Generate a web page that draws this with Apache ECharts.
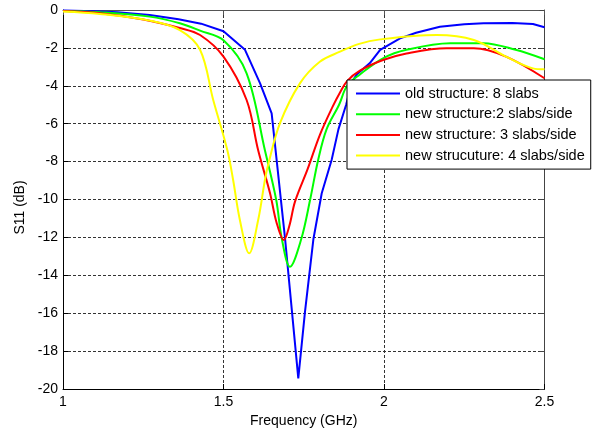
<!DOCTYPE html>
<html>
<head>
<meta charset="utf-8">
<script src="https://cdn.jsdelivr.net/npm/echarts@6/dist/echarts.min.js"></script>
<style>
html,body{margin:0;padding:0;background:#fff;}
#chart{width:598px;height:433px;}
</style>
</head>
<body>
<div id="chart"></div>
<script>
// ---- data ----
const seriesNames = [
  'old structure: 8 slabs',
  'new structure:2 slabs/side',
  'new structure: 3 slabs/side',
  'new strucuture: 4 slabs/side'
];
const xTicks = [1, 1.5, 2, 2.5];
const yTicks = [-20, -18, -16, -14, -12, -10, -8, -6, -4, -2, 0];

const oldFreq = [1.00,1.10,1.17,1.27,1.36,1.43,1.50,1.567,1.614,1.65,1.692,1.733,1.754,1.78,1.806,1.837,1.858,1.882,1.90,1.915,1.956,1.988,2.05,2.10,2.174,2.25,2.31,2.40,2.464,2.50];
const oldS11  = [-0.02,-0.06,-0.12,-0.26,-0.49,-0.72,-1.12,-2.1,-3.87,-5.45,-12.1,-19.44,-15.9,-12.1,-9.67,-7.9,-6.3,-5.0,-3.8,-3.4,-2.8,-2.1,-1.5,-1.2,-0.88,-0.75,-0.70,-0.68,-0.74,-0.91];

const s2Freq = [1.00,1.115,1.27,1.364,1.427,1.50,1.572,1.629,1.664,1.682,1.707,1.742,1.77,1.795,1.821,1.86,1.885,1.925,1.997,2.07,2.206,2.31,2.41,2.50];
const s2S11  = [-0.05,-0.12,-0.35,-0.70,-1.09,-1.6,-3.34,-7.4,-10.0,-12.1,-13.55,-12.1,-10.0,-7.9,-6.3,-5.0,-4.0,-3.4,-2.55,-2.1,-1.75,-1.75,-2.1,-2.6];

const s3Freq = [1.00,1.115,1.25,1.364,1.427,1.50,1.572,1.608,1.645,1.665,1.688,1.705,1.723,1.762,1.80,1.84,1.863,1.885,1.925,1.997,2.07,2.195,2.28,2.38,2.50];
const s3S11  = [-0.05,-0.17,-0.5,-0.95,-1.32,-2.46,-4.75,-7.4,-9.67,-11.2,-12.14,-11.4,-10.1,-8.4,-6.6,-5.1,-4.35,-3.75,-3.2,-2.64,-2.29,-2.02,-2.02,-2.46,-3.6];

const s4Freq = [1.00,1.115,1.27,1.364,1.427,1.468,1.512,1.53,1.551,1.58,1.608,1.629,1.64,1.676,1.738,1.80,1.863,1.92,1.988,2.164,2.28,2.38,2.464,2.50];
const s4S11  = [-0.08,-0.21,-0.56,-1.06,-2.1,-4.75,-7.4,-8.97,-11.08,-12.84,-11.08,-8.97,-8.1,-5.97,-3.87,-2.73,-2.2,-1.8,-1.55,-1.32,-1.58,-2.46,-3.08,-3.13];

const colors = ['#0000ff', '#00ff00', '#ff0000', '#ffff00'];
// ----------------------------------------

const pairs = (xs, ys) => xs.map((x, i) => [x, ys[i]]);
const FONT = '"Liberation Sans", Arial, sans-serif';

const chart = echarts.init(document.getElementById('chart'), null, {renderer: 'canvas'});

const baseX = {
  type: 'value', min: xTicks[0], max: xTicks[xTicks.length - 1], interval: 0.5
};
const baseY = {
  type: 'value', min: yTicks[0], max: yTicks[yTicks.length - 1], interval: 2
};
const dashed = {show: true, lineStyle: {color: '#333', width: 1, type: [3, 2]}};

chart.setOption({
  animation: false,
  backgroundColor: '#fff',
  color: colors,
  grid: {left: 63, right: 53.5, top: 10, bottom: 44, containLabel: false},
  legend: {
    orient: 'vertical',
    left: 347, top: 80,
    data: seriesNames,
    backgroundColor: '#fff',
    borderColor: '#000', borderWidth: 1,
    padding: [6, 6, 6, 9],
    itemWidth: 44, itemHeight: 2, itemGap: 5.7,
    icon: 'rect',
    textStyle: {fontFamily: FONT, fontSize: 14.5, color: '#000', lineHeight: 14},
    z: 10
  },
  xAxis: [
    Object.assign({}, baseX, {
      position: 'bottom',
      name: 'Frequency (GHz)', nameLocation: 'middle', nameGap: 22,
      nameTextStyle: {fontFamily: FONT, fontSize: 14, color: '#000'},
      axisLine: {show: true, onZero: false, lineStyle: {color: '#000', width: 1}},
      axisTick: {show: true, inside: true, length: 5, lineStyle: {color: '#000'}},
      axisLabel: {show: true, margin: 6, fontFamily: FONT, fontSize: 14, color: '#000'},
      splitLine: dashed
    }),
    Object.assign({}, baseX, {
      position: 'top',
      axisLine: {show: true, onZero: false, lineStyle: {color: '#555', width: 1}},
      axisTick: {show: true, inside: true, length: 5, lineStyle: {color: '#555'}},
      axisLabel: {show: false},
      splitLine: {show: false}
    })
  ],
  yAxis: [
    Object.assign({}, baseY, {
      position: 'left',
      name: 'S11 (dB)', nameLocation: 'middle', nameGap: 28, nameRotate: 90,
      nameTextStyle: {fontFamily: FONT, fontSize: 14, color: '#000', padding: [0, 16, 0, 0]},
      axisLine: {show: true, onZero: false, lineStyle: {color: '#000', width: 1}},
      axisTick: {show: true, inside: true, length: 5, lineStyle: {color: '#000'}},
      axisLabel: {show: true, margin: 5, fontFamily: FONT, fontSize: 14, color: '#000'},
      splitLine: dashed
    }),
    Object.assign({}, baseY, {
      position: 'right',
      axisLine: {show: true, onZero: false, lineStyle: {color: '#444', width: 1}},
      axisTick: {show: true, inside: true, length: 5, lineStyle: {color: '#444'}},
      axisLabel: {show: false},
      splitLine: {show: false}
    })
  ],
  series: [
    {name: seriesNames[0], type: 'line', data: pairs(oldFreq, oldS11), smooth: false},
    {name: seriesNames[1], type: 'line', data: pairs(s2Freq, s2S11), smooth: 0.35},
    {name: seriesNames[2], type: 'line', data: pairs(s3Freq, s3S11), smooth: 0.35},
    {name: seriesNames[3], type: 'line', data: pairs(s4Freq, s4S11), smooth: 0.35}
  ].map((s, i) => Object.assign(s, {
    symbol: 'none', showSymbol: false, clip: true,
    lineStyle: {width: 2, color: colors[i]},
    itemStyle: {color: colors[i]},
    z: 2 + i
  }))
});
</script>
</body>
</html>
